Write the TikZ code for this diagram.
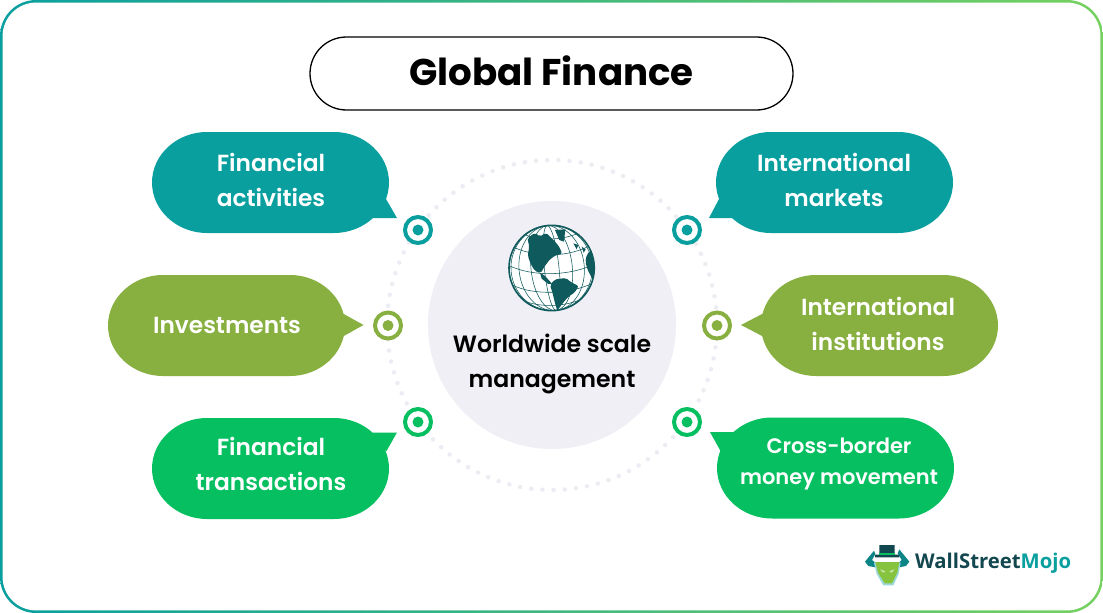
\documentclass[tikz,border=0pt]{standalone}
\usepackage{fontspec}
\setmainfont{Poppins}
\newfontfamily\semi{Poppins SemiBold}
\newfontfamily\logofont{Open Sans}
\usetikzlibrary{calc}
\definecolor{teal1}{HTML}{0A9F9F}
\definecolor{olive1}{HTML}{88B040}
\definecolor{green1}{HTML}{05BF60}
\definecolor{frameg}{HTML}{76D160}
\definecolor{pale}{HTML}{F0EFF6}
\definecolor{dotc}{HTML}{ECECF3}
\definecolor{globec}{HTML}{0F5A5C}
\definecolor{logod}{HTML}{12474F}
\definecolor{bullg}{HTML}{86C440}
\tikzset{
  x=1pt,y=-1pt,
  bubbletext/.style={text=white,align=center,font=\semi\fontsize{23.3}{35}\selectfont,inner sep=0pt},
  smalltext/.style={text=white,align=center,font=\semi\fontsize{21}{31}\selectfont,inner sep=0pt},
  ringm/.style={draw=#1,line width=4pt,fill=white,circle,minimum size=26pt,inner sep=0pt},
  dotm/.style={fill=#1,circle,minimum size=11pt,inner sep=0pt},
  gridl/.style={draw=globec,line width=0.55pt},
}
% colour, left, top, right, bottom
\newcommand{\speechbody}[5]{%
  \pgfmathsetmacro{\rx}{55}\pgfmathsetmacro{\ry}{(#5-#3)/2}%
  \fill[#1] ({#2+\rx},#3) -- ({#4-\rx},#3)
    .. controls ({#4-0.45*\rx},#3) and (#4,{#3+0.45*\ry}) .. (#4,{#3+\ry})
    .. controls (#4,{#5-0.45*\ry}) and ({#4-0.45*\rx},#5) .. ({#4-\rx},#5)
    -- ({#2+\rx},#5)
    .. controls ({#2+0.45*\rx},#5) and (#2,{#5-0.45*\ry}) .. (#2,{#3+\ry})
    .. controls (#2,{#3+0.45*\ry}) and ({#2+0.45*\rx},#3) .. ({#2+\rx},#3) -- cycle;%
}
\begin{document}
\begin{tikzpicture}
\useasboundingbox (0,0) rectangle (1103,613);
\fill[white] (0,0) rectangle (1103,613);
% frame
\shade[left color=teal1,right color=frameg,rounded corners=36pt] (0,0) rectangle (1103,613);
\fill[white,rounded corners=33.5pt] (2.6,2.6) rectangle (1100.4,610.4);
% title
\node[draw=black,line width=1.3pt,fill=white,rounded corners=36.5pt,minimum width=483pt,minimum height=73pt,inner sep=0pt] (title) at (551.5,73.5) {};
\node[inner sep=0pt,font=\bfseries\fontsize{37.2}{40}\selectfont] (titletext) at (551.5,70.5) {Global Finance};
% dotted ring
\coordinate (ctr) at (552,325);
\draw[dotc,line width=4.5pt,line cap=round,dash pattern=on 0pt off 11.2pt] (ctr) circle[radius=165];
% centre
\fill[pale] (ctr) circle[radius=124];
\node[font=\semi\fontsize{23.6}{35}\selectfont,align=center,inner sep=0pt,text=black] (centre) at (552,363.5) {Worldwide scale\\management};
% globe
\begin{scope}[shift={(440,190)},x=0.3333pt,y=-0.3333pt]
 \fill[white] (335,234) circle[radius=128];
 \begin{scope}
  \clip (335,234) circle[radius=128];
  \foreach \r in {22,62,98,122}{
    \draw[gridl,rotate around={6:(335,234)}] (335,234) ellipse[x radius=\r,y radius=128];
  }
  \draw[gridl] (210,166) .. controls (280,205) and (390,205) .. (462,160);
  \draw[gridl] (205,226) .. controls (280,262) and (390,258) .. (465,222);
  \draw[gridl] (215,284) .. controls (280,318) and (390,312) .. (458,280);
  \draw[gridl] (245,330) .. controls (300,355) and (380,350) .. (430,325);
  \draw[gridl] (250,132) .. controls (300,155) and (370,150) .. (420,128);
  \fill[globec,rounded corners=2pt] (262,145)--(285,128)--(300,140)--(318,128)--(338,148)--(350,160)--(362,178)--(366,192)--(348,195)--(330,208)--(322,218)--(312,232)--(302,250)--(285,243)--(272,222)--(263,195)--(268,170)--cycle;
  \fill[globec] (300,248)--(315,258)--(336,281)--(325,282)--(305,266)--cycle;
  \fill[globec,rounded corners=2pt] (330,285)--(345,268)--(378,264)--(392,276)--(416,288)--(404,308)--(385,320)--(368,340)--(352,362)--(345,340)--(338,310)--cycle;
  \fill[globec,rounded corners=2pt] (440,195)--(452,180)--(472,225)--(458,268)--(443,240)--(436,215)--cycle;
  \fill[globec] (345,120)--(376,118)--(372,155)--(358,150)--cycle;
  \fill[globec] (400,160)--(415,165)--(410,178)--cycle;
  \fill[globec] (425,170)--(437,178)--(431,188)--cycle;
 \end{scope}
 \draw[globec,line width=1.6pt] (335,234) circle[radius=128];
\end{scope}
% bubbles
\speechbody{teal1}{152}{132}{389}{233}
\fill[teal1] (386,199)--(397,218)--(373,218)--(370,205)--cycle;
\node[bubbletext] (b1) at (271,179.5) {Financial\\activities};
\speechbody{olive1}{108}{275}{345}{376}
\fill[olive1] (342,313)--(363.5,325)--(342,337)--cycle;
\node[bubbletext] (b2) at (227,325) {Investments};
\speechbody{green1}{152}{418}{389}{519}
\fill[green1] (373,432.5)--(397,432.5)--(386.5,451)--(370,445)--cycle;
\node[bubbletext] (b3) at (271,464) {Financial\\transactions};
\speechbody{teal1}{716}{132}{953}{233}
\fill[teal1] (719,199)--(709,218)--(733,218)--(735,205)--cycle;
\node[bubbletext] (b4) at (834,179.5) {International\\markets};
\speechbody{olive1}{761}{275}{998}{376}
\fill[olive1] (764,313)--(741,325)--(764,337)--cycle;
\node[bubbletext] (b5) at (878,323.5) {International\\institutions};
\speechbody{green1}{717}{417.5}{954}{518.5}
\fill[green1] (710,432)--(738,432)--(735,448)--(720.5,451)--cycle;
\node[smalltext] (b6) at (839,463.5) {Cross-border\\money movement};
% markers
\node[ringm=teal1] (m1) at (418,230) {}; \node[dotm=teal1] (m1c) at (m1) {};
\node[ringm=olive1] (m2) at (388,325.5) {}; \node[dotm=olive1] (m2c) at (m2) {};
\node[ringm=green1] (m3) at (418,422) {}; \node[dotm=green1] (m3c) at (m3) {};
\node[ringm=teal1] (m4) at (687,230) {}; \node[dotm=teal1] (m4c) at (m4) {};
\node[ringm=olive1] (m5) at (717,325.5) {}; \node[dotm=olive1] (m5c) at (m5) {};
\node[ringm=green1] (m6) at (687,422) {}; \node[dotm=green1] (m6c) at (m6) {};
% logo
\begin{scope}[shift={(850,530)},x=0.3333pt,y=-0.3333pt]
 \fill[teal1!70!logod] (45,95)--(72,62)--(76,72)--(66,90)--(78,100)--(76,112)--(55,108)--cycle;
 \fill[teal1!70!logod] (178,95)--(148,58)--(143,70)--(155,90)--(145,100)--(147,112)--(168,108)--cycle;
 \fill[teal1!40!white] (72,98)--(152,98)--(146,132)--(130,166)--(100,166)--(80,132)--cycle;
 \fill[bullg] (76,96)--(148,96)--(142,128)--(126,160)--(104,160)--(84,128)--cycle;
 \fill[logod] (88,45)--(134,45)--(134,74)--(148,74)--(148,82)--(75,82)--(75,74)--(88,74)--cycle;
 \fill[green1] (88,68)--(134,68)--(134,74)--(88,74)--cycle;
 \fill[white!60!bullg] (90,118)--(106,124)--(100,128)--cycle;
 \fill[white!60!bullg] (134,118)--(118,124)--(124,128)--cycle;
\end{scope}
\node[anchor=west,inner sep=0pt,font=\logofont\bfseries\fontsize{20.3}{24}\selectfont] (logo) at (915,563) {\textcolor{logod}{WallStreet}\textcolor{teal1}{Mojo}};
\end{tikzpicture}
\end{document}
